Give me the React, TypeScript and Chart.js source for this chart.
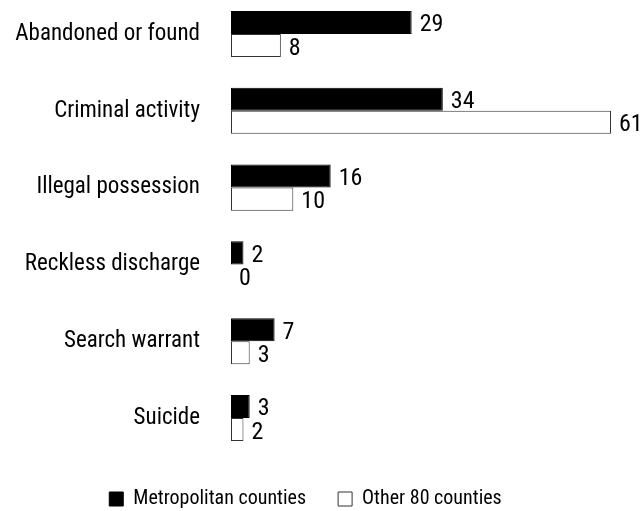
import React, { useEffect, useRef } from "react";
import { Chart, registerables } from "chart.js";

Chart.register(...registerables);

const categories = [
  "Abandoned or found",
  "Criminal activity",
  "Illegal possession",
  "Reckless discharge",
  "Search warrant",
  "Suicide",
];
const metroValues = [29, 34, 16, 2, 7, 3];
const otherValues = [8, 61, 10, 0, 3, 2];
const seriesNames = ["Metropolitan counties", "Other 80 counties"];

const FONT = "'Roboto Condensed', 'Liberation Sans Narrow', sans-serif";

const valueLabels = {
  id: "valueLabels",
  afterDatasetsDraw(chart: any) {
    const ctx = chart.ctx;
    ctx.save();
    ctx.font = `24px ${FONT}`;
    ctx.fillStyle = "#000";
    ctx.textAlign = "left";
    ctx.textBaseline = "middle";
    chart.data.datasets.forEach((ds: any, i: number) => {
      const meta = chart.getDatasetMeta(i);
      meta.data.forEach((bar: any, j: number) => {
        ctx.fillText(String(ds.data[j]), bar.x + 8, bar.y + 3);
      });
    });
    ctx.restore();
  },
};

export default function App() {
  const ref = useRef<HTMLCanvasElement | null>(null);
  useEffect(() => {
    if (!ref.current) return;
    const chart = new Chart(ref.current, {
      type: "bar",
      data: {
        labels: categories,
        datasets: [
          {
            label: seriesNames[0],
            data: metroValues,
            backgroundColor: "#000",
            borderColor: "#000",
            borderWidth: 1,
            borderSkipped: false,
            categoryPercentage: 0.6,
            barPercentage: 1,
            clip: false,
          },
          {
            label: seriesNames[1],
            data: otherValues,
            backgroundColor: "#fff",
            borderColor: "#333",
            borderWidth: 1,
            borderSkipped: false,
            categoryPercentage: 0.6,
            barPercentage: 1,
            clip: false,
          },
        ],
      },
      options: {
        indexAxis: "y",
        responsive: false,
        animation: false,
        layout: { padding: { top: 34, right: 30, bottom: -8, left: 0 } },
        scales: {
          y: {
            type: "category",
            offset: false,
            grid: { display: false, drawTicks: true, tickLength: 31 },
            border: { display: false },
            ticks: { color: "#000", font: { family: FONT, size: 23 }, padding: 0 },
            afterFit: (s: any) => {
              s.width = 231;
            },
          },
          x: {
            min: 0,
            max: 61,
            grid: { display: false, drawTicks: false },
            border: { display: false },
            ticks: { display: false },
            afterFit: (s: any) => {
              s.height = 39;
            },
          },
        },
        plugins: {
          tooltip: { enabled: false },
          legend: {
            position: "bottom",
            labels: {
              boxWidth: 14,
              boxHeight: 14,
              padding: 32,
              color: "#000",
              font: { family: FONT, size: 20 },
            },
          },
        },
      },
      plugins: [valueLabels],
    } as any);
    return () => chart.destroy();
  }, []);
  return (
    <div style={{ position: "absolute", left: 0, top: 0, width: 641, height: 511 }}>
      <canvas ref={ref} width={641} height={511} />
    </div>
  );
}
